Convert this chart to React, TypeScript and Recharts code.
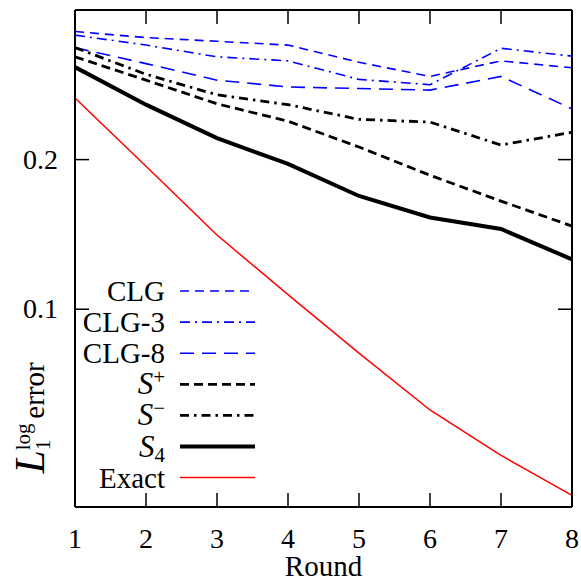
import React from 'react';
import { LineChart, Line, XAxis, YAxis, Legend } from 'recharts';

const rounds = [1, 2, 3, 4, 5, 6, 7, 8];
const clg = [0.362, 0.352, 0.346, 0.340, 0.314, 0.294, 0.316, 0.306];
const clg3 = [0.356, 0.340, 0.322, 0.316, 0.290, 0.283, 0.335, 0.323];
const clg8 = [0.336, 0.312, 0.289, 0.280, 0.278, 0.276, 0.294, 0.253];
const sPlus = [0.322, 0.289, 0.259, 0.239, 0.212, 0.186, 0.165, 0.147];
const sMinus = [0.336, 0.297, 0.270, 0.258, 0.241, 0.238, 0.214, 0.227];
const s4 = [0.307, 0.258, 0.221, 0.196, 0.169, 0.153, 0.145, 0.126];
const exact = [0.266, 0.194, 0.141, 0.107, 0.0816, 0.0627, 0.0508, 0.0422];

const yTicks = [0.1, 0.2];
const yDomain = [0.04, 0.4];

const data = rounds.map((r, i) => ({
  round: r,
  clg: clg[i],
  clg3: clg3[i],
  clg8: clg8[i],
  sPlus: sPlus[i],
  sMinus: sMinus[i],
  s4: s4[i],
  exact: exact[i],
}));

const FONT = '"Liberation Serif", "Times New Roman", serif';
const BLUE = '#0000ff';

type Series = { key: string; stroke: string; width: number; dash?: string };
const series: Series[] = [
  { key: 'clg', stroke: BLUE, width: 1.6, dash: '9 6' },
  { key: 'clg3', stroke: BLUE, width: 1.6, dash: '10 5 2 5' },
  { key: 'clg8', stroke: BLUE, width: 1.6, dash: '14 8' },
  { key: 'sPlus', stroke: '#000', width: 2.8, dash: '9 5' },
  { key: 'sMinus', stroke: '#000', width: 2.8, dash: '9 5 2.5 5' },
  { key: 's4', stroke: '#000', width: 4 },
  { key: 'exact', stroke: '#ff0000', width: 1.5 },
];

const legendLabel = (key: string) => {
  switch (key) {
    case 'clg':
      return <tspan>CLG</tspan>;
    case 'clg3':
      return <tspan>CLG-3</tspan>;
    case 'clg8':
      return <tspan>CLG-8</tspan>;
    case 'sPlus':
      return (
        <>
          <tspan fontStyle="italic" fontSize={31}>S</tspan>
          <tspan dy={-10} fontSize={21}>+</tspan>
        </>
      );
    case 'sMinus':
      return (
        <>
          <tspan fontStyle="italic" fontSize={31}>S</tspan>
          <tspan dy={-10} fontSize={21}>−</tspan>
        </>
      );
    case 's4':
      return (
        <>
          <tspan fontStyle="italic" fontSize={31}>S</tspan>
          <tspan dy={5} fontSize={21}>4</tspan>
        </>
      );
    default:
      return <tspan>Exact</tspan>;
  }
};

const LegendBox = () => {
  const rowY0 = 291;
  const step = 31.1;
  return (
    <svg width={581} height={582} style={{ position: 'absolute', left: 0, top: 0 }}>
      {series.map((s, i) => {
        const y = rowY0 + i * step;
        return (
          <g key={s.key}>
            <text x={165} y={y + 10} textAnchor="end" fontFamily={FONT} fontSize={29} fill="#000">
              {legendLabel(s.key)}
            </text>
            <line x1={180} x2={255} y1={y} y2={y} stroke={s.stroke} strokeWidth={s.width} strokeDasharray={s.dash} />
          </g>
        );
      })}
    </svg>
  );
};

const BottomTick = (props: any) => {
  const { x, y, payload } = props;
  const v = payload.value;
  return (
    <g>
      {v !== 1 && v !== 8 && <line x1={x} y1={y} x2={x} y2={y - 14} stroke="#000" strokeWidth={1.5} />}
      <text x={x} y={y + 41} textAnchor="middle" fontFamily={FONT} fontSize={28} fill="#000">
        {v}
      </text>
    </g>
  );
};

const TopTick = (props: any) => {
  const { x, y, payload } = props;
  const v = payload.value;
  if (v === 1 || v === 8) return <g />;
  return <line x1={x} y1={y} x2={x} y2={y + 14} stroke="#000" strokeWidth={1.5} />;
};

const LeftTick = (props: any) => {
  const { x, y, payload } = props;
  return (
    <g>
      <line x1={x} y1={y} x2={x + 14} y2={y} stroke="#000" strokeWidth={1.5} />
      <text x={x - 17} y={y + 9} textAnchor="end" fontFamily={FONT} fontSize={28} fill="#000">
        {payload.value}
      </text>
    </g>
  );
};

const RightTick = (props: any) => {
  const { x, y } = props;
  return <line x1={x} y1={y} x2={x - 14} y2={y} stroke="#000" strokeWidth={1.5} />;
};

const XLabel = (props: any) => {
  const vb = props.viewBox || { x: 75, y: 507, width: 497 };
  return (
    <text x={vb.x + vb.width / 2} y={576} textAnchor="middle" fontFamily={FONT} fontSize={29} fill="#000">
      Round
    </text>
  );
};

const YLabel = () => (
  <text
    transform="rotate(-90)"
    x={-418}
    y={44}
    textAnchor="middle"
    fontFamily={FONT}
    fontSize={29}
    fill="#000"
  >
    <tspan fontStyle="italic" fontSize={42}>L</tspan>
    <tspan dy={-14} fontSize={21}>log</tspan>
    <tspan dx={-26.8} dy={20} fontSize={21}>1</tspan>
    <tspan dx={21} dy={-6}>error</tspan>
  </text>
);

export default function App() {
  return (
    <div style={{ position: 'absolute', left: 0, top: 0, width: 581, height: 582, background: '#fff' }}>
      <LineChart width={581} height={582} data={data} margin={{ top: 0, right: 0, bottom: 0, left: 0 }}>
        <XAxis
          xAxisId="b"
          dataKey="round"
          type="number"
          domain={[1, 8]}
          ticks={rounds}
          interval={0}
          height={75}
          tickSize={0}
          tickMargin={0}
          tickLine={false}
          tick={<BottomTick />}
          axisLine={{ stroke: '#000', strokeWidth: 2 }}
          label={<XLabel />}
        />
        <XAxis
          xAxisId="t"
          orientation="top"
          dataKey="round"
          type="number"
          domain={[1, 8]}
          ticks={rounds}
          interval={0}
          height={10}
          tickSize={0}
          tickMargin={0}
          tickLine={false}
          tick={<TopTick />}
          axisLine={{ stroke: '#000', strokeWidth: 2 }}
        />
        <YAxis
          yAxisId="l"
          scale="log"
          type="number"
          domain={yDomain}
          allowDataOverflow
          ticks={yTicks}
          interval={0}
          width={75}
          tickSize={0}
          tickMargin={0}
          tickLine={false}
          tick={<LeftTick />}
          axisLine={{ stroke: '#000', strokeWidth: 2 }}
          label={<YLabel />}
        />
        <YAxis
          yAxisId="r"
          orientation="right"
          scale="log"
          type="number"
          domain={yDomain}
          allowDataOverflow
          ticks={yTicks}
          interval={0}
          width={9}
          tickSize={0}
          tickMargin={0}
          tickLine={false}
          tick={<RightTick />}
          axisLine={{ stroke: '#000', strokeWidth: 2 }}
        />
        <Legend
          layout="horizontal"
          verticalAlign="middle"
          align="center"
          content={() => <LegendBox />}
          wrapperStyle={{ position: 'absolute', left: 0, top: 0, width: 581, height: 582, pointerEvents: 'none' }}
        />
        {series.map((s) => (
          <Line
            key={s.key}
            xAxisId="b"
            yAxisId="l"
            type="linear"
            dataKey={s.key}
            stroke={s.stroke}
            strokeWidth={s.width}
            strokeDasharray={s.dash}
            dot={false}
            activeDot={false}
            isAnimationActive={false}
          />
        ))}
      </LineChart>
    </div>
  );
}
